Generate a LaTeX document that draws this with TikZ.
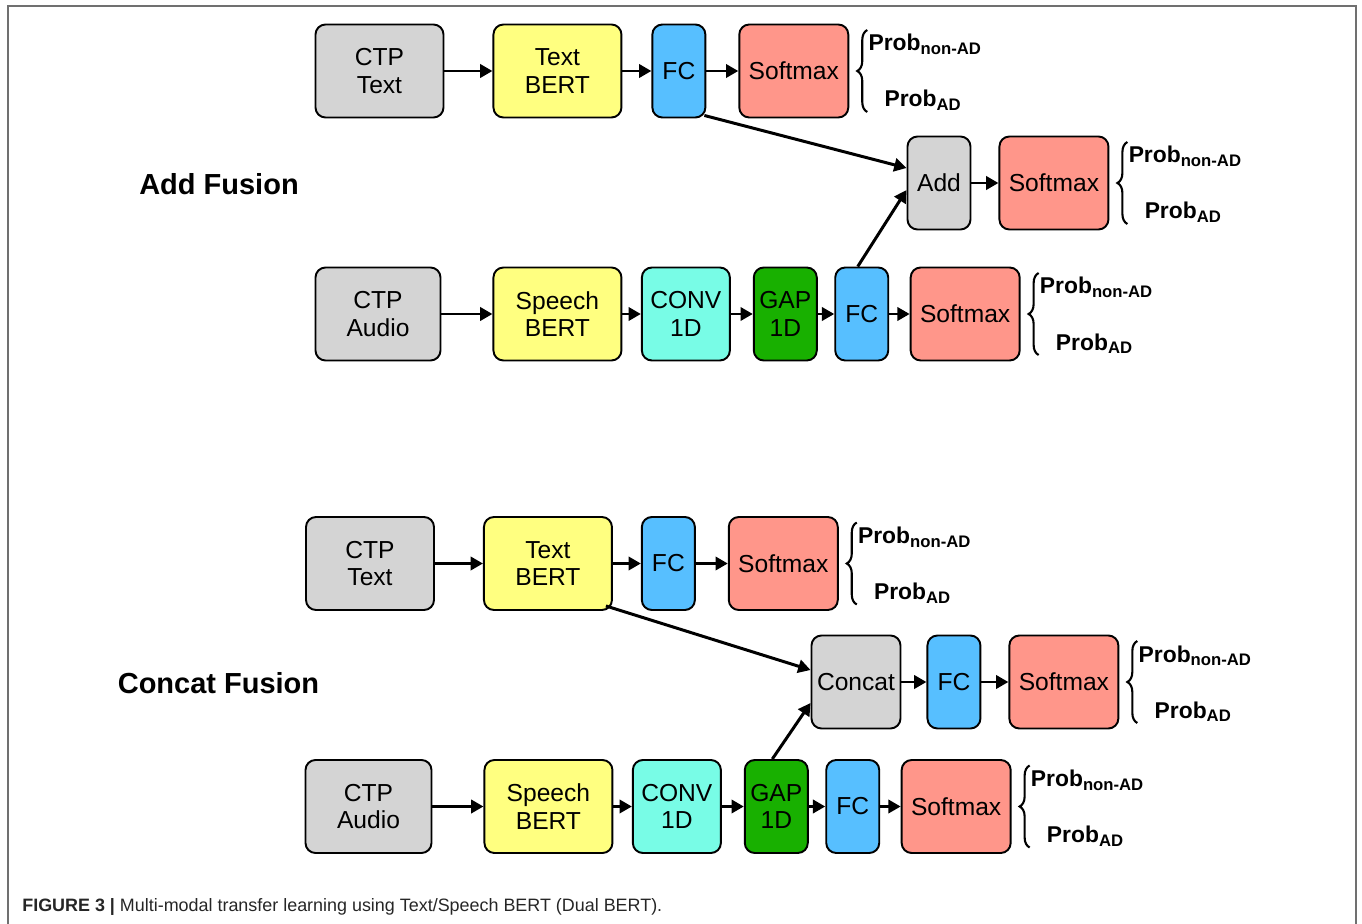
\documentclass[tikz,border=0pt]{standalone}
\usepackage{fontspec}
\setmainfont{Liberation Sans}
\usetikzlibrary{arrows.meta, positioning, decorations.pathreplacing}

\definecolor{boxgray}{HTML}{D4D4D4}
\definecolor{bertyellow}{HTML}{FFFF80}
\definecolor{fcblue}{HTML}{57BFFF}
\definecolor{softred}{HTML}{FF968A}
\definecolor{convcyan}{HTML}{78FCE6}
\definecolor{gapgreen}{HTML}{18B000}
\definecolor{framegray}{HTML}{707070}

\newcommand{\probsub}[1]{Prob\raisebox{-0.3ex}{\fontsize{9.5}{9.5}\selectfont #1}}

\begin{document}
\begin{tikzpicture}[
    % Define styles
    block/.style={rectangle, draw, line width=1.1pt, rounded corners=0.2cm, minimum height=1.86cm, inner sep=2pt, align=center, font=\fontsize{14}{15.5}\selectfont},
    ctp/.style={block, fill=boxgray, minimum width=2.56cm},
    bert/.style={block, fill=bertyellow, minimum width=2.56cm},
    fc/.style={block, fill=fcblue, minimum width=1.06cm},
    soft/.style={block, fill=softred, minimum width=2.18cm},
    conv/.style={block, fill=convcyan, minimum width=1.76cm},
    gap/.style={block, fill=gapgreen, minimum width=1.26cm},
    merge/.style={block, fill=boxgray},
    arrow/.style={-{Stealth[inset=0pt, length=7pt, width=7.5pt]}, line width=1.7pt},
    bracedeco/.style={decorate, decoration={brace, amplitude=0.2cm}, line width=1.2pt},
    prob/.style={anchor=base west, inner sep=0pt, font=\fontsize{13}{15}\selectfont\bfseries},
    title/.style={font=\fontsize{16.5}{19}\selectfont\bfseries}
  ]

  \useasboundingbox (0,0) rectangle (27.24,-18.48);

  % Frame
  \draw[framegray, line width=1.1pt] (0.16,-18.48) -- (0.16,-0.12) -- (27.12,-0.12) -- (27.12,-18.48);

  % Add fusion: text branch
  \node[ctp] (ctptext) at (7.59,-1.42) {CTP\\Text};
  \node[bert, right=0.96cm of ctptext] (textbert) {Text\\BERT};
  \node[fc, right=0.58cm of textbert] (textfc) {FC};
  \node[soft, right=0.64cm of textfc] (textsoft) {Softmax};
  \draw[arrow] (ctptext) -- (textbert);
  \draw[arrow] (textbert) -- (textfc);
  \draw[arrow] (textfc) -- (textsoft);

  % Add fusion: merge
  \node[merge, minimum width=1.26cm] (add) at (18.78,-3.66) {Add};
  \node[soft, right=0.54cm of add] (addsoft) {Softmax};
  \draw[arrow] (add) -- (addsoft);

  % Add fusion: audio branch
  \node[ctp, minimum width=2.5cm] (ctpaudio) at (7.56,-6.28) {CTP\\Audio};
  \node[bert, right=1.02cm of ctpaudio] (speechbert) {Speech\\BERT};
  \node[conv, right=0.37cm of speechbert] (conv) {CONV\\1D};
  \node[gap, right=0.44cm of conv] (gap) {GAP\\1D};
  \node[fc, right=0.33cm of gap] (audiofc) {FC};
  \node[soft, right=0.41cm of audiofc] (audiosoft) {Softmax};
  \draw[arrow] (ctpaudio) -- (speechbert);
  \draw[arrow] (speechbert) -- (conv);
  \draw[arrow] (conv) -- (gap);
  \draw[arrow] (gap) -- (audiofc);
  \draw[arrow] (audiofc) -- (audiosoft);

  \draw[arrow] ([xshift=-0.04cm, yshift=0.06cm]textfc.south east) -- ([yshift=0.3cm]add.west);
  \draw[arrow] ([xshift=-0.08cm]audiofc.north) -- ([yshift=-0.14cm]add.west);

  % Concat fusion: text branch
  \node[ctp] (ctptextb) at (7.40,-11.27) {CTP\\Text};
  \node[bert, right=0.96cm of ctptextb] (textbertb) {Text\\BERT};
  \node[fc, right=0.56cm of textbertb] (textfcb) {FC};
  \node[soft, right=0.64cm of textfcb] (textsoftb) {Softmax};
  \draw[arrow] (ctptextb) -- (textbertb);
  \draw[arrow] (textbertb) -- (textfcb);
  \draw[arrow] (textfcb) -- (textsoftb);

  % Concat fusion: merge
  \node[merge, minimum width=1.78cm] (concat) at (17.12,-13.64) {Concat};
  \node[fc, right=0.5cm of concat] (concatfc) {FC};
  \node[soft, right=0.54cm of concatfc] (concatsoft) {Softmax};
  \draw[arrow] (concat) -- (concatfc);
  \draw[arrow] (concatfc) -- (concatsoft);

  % Concat fusion: audio branch
  \node[ctp, minimum width=2.52cm] (ctpaudiob) at (7.37,-16.13) {CTP\\Audio};
  \node[bert, right=1.02cm of ctpaudiob] (speechbertb) {Speech\\BERT};
  \node[conv, right=0.37cm of speechbertb] (convb) {CONV\\1D};
  \node[gap, right=0.44cm of convb] (gapb) {GAP\\1D};
  \node[fc, right=0.33cm of gapb] (audiofcb) {FC};
  \node[soft, right=0.41cm of audiofcb] (audiosoftb) {Softmax};
  \draw[arrow] (ctpaudiob) -- (speechbertb);
  \draw[arrow] (speechbertb) -- (convb);
  \draw[arrow] (convb) -- (gapb);
  \draw[arrow] (gapb) -- (audiofcb);
  \draw[arrow] (audiofcb) -- (audiosoftb);

  \draw[arrow] ([xshift=-0.14cm, yshift=0.1cm]textbertb.south east) -- ([yshift=0.24cm]concat.west);
  \draw[arrow] ([xshift=-0.08cm]gapb.north) -- ([yshift=-0.42cm]concat.west);

  % Class probabilities
  \foreach \s in {textsoft,addsoft,audiosoft,textsoftb,concatsoft,audiosoftb} {
    \draw[bracedeco] ([xshift=0.36cm, yshift=-0.82cm]\s.east) -- ([xshift=0.36cm, yshift=0.82cm]\s.east);
    \node[prob] (\s-non) at ([xshift=0.38cm, yshift=0.4cm]\s.east) {\probsub{non-AD}};
    \node[prob] (\s-ad) at ([xshift=0.7cm, yshift=-0.72cm]\s.east) {\probsub{AD}};
  }

  % Titles
  \node[title] (addtitle) at (4.38,-3.68) {Add Fusion};
  \node[title] (concattitle) at (4.37,-13.66) {Concat Fusion};

  % Caption
  \node[anchor=base west, inner sep=0pt, font=\fontsize{10.2}{12}\selectfont, text=black!85] (caption) at (0.44,-18.22) {\textbf{FIGURE 3 |} Multi-modal transfer learning using Text/Speech BERT (Dual BERT).};

\end{tikzpicture}
\end{document}
